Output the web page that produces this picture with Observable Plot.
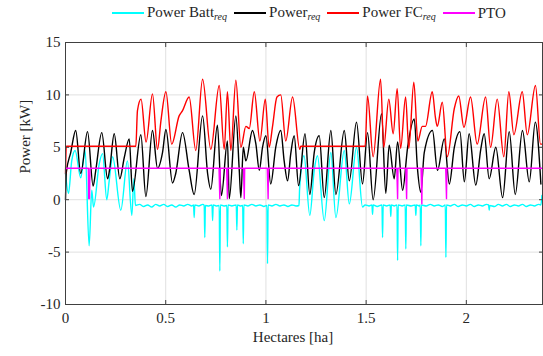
<!DOCTYPE html>
<html>
<head>
<meta charset="utf-8">
<script src="https://cdn.jsdelivr.net/npm/d3@7"></script>
<script src="https://cdn.jsdelivr.net/npm/@observablehq/plot@0.6"></script>
<style>
  html, body { margin: 0; padding: 0; background: #fff; }
  #wrap { position: relative; width: 543px; height: 356px; font-family: "Liberation Serif", serif; }
  #legend { position: absolute; top: 4px; left: 112px; display: flex; align-items: center; gap: 7px; font-size: 15px; color: #262626; white-space: nowrap; }
  #legend .item { display: flex; align-items: center; gap: 3px; }
  #legend .sw { width: 32px; height: 0; border-top: 2px solid; }
  #legend sub { font-size: 10px; font-style: italic; vertical-align: -3px; }
  svg { display: block; }
</style>
</head>
<body>
<div id="wrap"><div id="legend"></div><div id="chart"></div></div>
<script>
// ---- tick values ----
const xTicks = [0, 0.5, 1, 1.5, 2];
const yTicks = [-10, -5, 0, 5, 10, 15];

// ---- legend ----
const seriesNames = ["Power Batt", "Power", "Power FC", "PTO"];
const seriesSubs = ["req", "req", "req", ""];
const seriesColors = ["#00ffff", "#000000", "#ff0000", "#ff00ff"];

// ---- series: [hectares, kW] ----
const powerBattReq = [[0,2.5],[0.015,0.6],[0.031,3.7],[0.048,4.7],[0.076,2.1],[0.098,4.7],[0.118,-4.4],[0.131,0.9],[0.140,-0.7],[0.168,3.4],[0.185,4.4],[0.206,0.0],[0.218,1.8],[0.235,4.1],[0.276,-1.0],[0.309,3.7],[0.331,-1.5],[0.341,2.0],[0.349,-0.55],
[0.37,-0.45],[0.39,-0.65],[0.41,-0.5],[0.43,-0.7],[0.45,-0.45],[0.47,-0.6],[0.49,-0.45],[0.51,-0.65],[0.53,-0.5],[0.55,-0.7],[0.57,-0.5],[0.59,-0.6],[0.61,-0.45],[0.630,-0.6],[0.639,-0.5],[0.642,-1.7],[0.645,-0.5],[0.665,-0.6],[0.685,-0.45],[0.692,-0.55],[0.695,-3.6],[0.698,-0.55],[0.715,-0.6],[0.731,-0.5],[0.734,-2.0],[0.737,-0.5],[0.752,-0.6],[0.767,-0.55],[0.770,-6.8],[0.773,-0.5],[0.790,-0.6],[0.805,-0.55],[0.808,-4.5],[0.811,-0.5],[0.830,-0.6],[0.852,-0.5],[0.855,-2.9],[0.858,-0.5],[0.872,-0.6],[0.884,-0.55],[0.887,-4.2],[0.890,-0.5],[0.91,-0.6],[0.93,-0.45],[0.95,-0.6],[0.97,-0.5],[0.99,-0.65],[1.005,-0.55],[1.008,-6.1],[1.011,-0.5],[1.03,-0.6],[1.05,-0.45],[1.07,-0.6],[1.09,-0.5],[1.11,-0.65],[1.13,-0.5],[1.15,-0.6],[1.165,-0.55],
[1.168,1.0],[1.190,4.2],[1.219,-1.5],[1.241,2.8],[1.257,4.2],[1.291,-2.0],[1.324,4.5],[1.349,-1.7],[1.391,4.7],[1.416,-0.4],[1.452,5.0],[1.482,-0.7],[1.495,-0.5],
[1.515,-0.6],[1.529,-0.5],[1.532,-1.4],[1.535,-0.5],[1.555,-0.65],[1.579,-0.5],[1.582,-3.6],[1.585,-0.5],[1.602,-0.6],[1.620,-0.5],[1.623,-1.6],[1.626,-0.5],[1.640,-0.6],[1.654,-0.5],[1.657,-5.8],[1.660,-0.5],[1.680,-0.6],[1.695,-0.5],[1.698,-4.7],[1.701,-0.5],[1.725,-0.6],[1.745,-0.5],[1.748,-1.5],[1.751,-0.5],[1.765,-0.6],[1.770,-0.5],[1.773,-4.4],[1.776,-0.5],[1.80,-0.6],[1.82,-0.45],[1.84,-0.6],[1.86,-0.5],[1.88,-0.65],[1.895,-0.5],[1.898,-5.5],[1.901,-0.5],[1.92,-0.6],[1.94,-0.45],[1.96,-0.65],[1.98,-0.5],[2.00,-0.6],[2.02,-0.45],[2.04,-0.65],[2.06,-0.5],[2.08,-0.6],[2.10,-0.45],[2.111,-0.5],[2.114,-1.0],[2.117,-0.55],[2.14,-0.65],[2.16,-0.45],[2.18,-0.6],[2.20,-0.45],[2.22,-0.65],[2.24,-0.5],[2.26,-0.6],[2.28,-0.45],[2.30,-0.65],[2.32,-0.5],[2.34,-0.6],[2.36,-0.45],[2.372,-0.5],[2.377,0.4]];

const powerReq = [[0,0],[0.004,2.6],[0.026,4.5],[0.051,6.6],[0.076,2.5],[0.110,6.5],[0.138,1.3],[0.151,2.8],[0.181,6.4],[0.210,2.0],[0.221,3.0],[0.243,6.3],[0.271,2.0],[0.293,4.0],[0.318,5.8],[0.334,0.8],[0.376,6.2],[0.401,0.3],[0.434,6.6],[0.459,3.0],[0.484,4.5],[0.501,6.7],[0.534,1.6],[0.550,2.5],[0.584,6.4],[0.617,2.8],[0.642,0.5],[0.684,8.0],[0.709,2.5],[0.725,1.0],[0.758,7.1],[0.778,0.4],[0.808,5.6],[0.817,0.1],[0.850,8.0],[0.867,2.8],[0.875,0.2],[0.887,5.0],[0.900,3.7],[0.933,6.6],[0.950,5.3],[0.967,2.8],[0.983,5.0],[1.000,6.1],[1.024,1.5],[1.049,5.0],[1.074,6.6],[1.091,3.7],[1.108,1.8],[1.124,4.4],[1.141,6.1],[1.163,1.35],[1.195,6.3],[1.219,0.5],[1.241,4.5],[1.266,6.1],[1.291,0.2],[1.324,6.6],[1.349,0.5],[1.391,6.6],[1.416,1.8],[1.452,7.4],[1.482,1.5],[1.507,6.4],[1.535,0.0],[1.577,8.2],[1.598,0.6],[1.615,5.2],[1.640,2.0],[1.657,5.5],[1.682,0.9],[1.707,5.0],[1.740,7.7],[1.756,3.0],[1.773,0.7],[1.790,4.5],[1.831,6.6],[1.856,2.8],[1.890,5.8],[1.915,1.5],[1.940,5.0],[1.968,6.5],[1.990,1.7],[2.014,6.3],[2.047,1.4],[2.072,4.8],[2.089,6.3],[2.114,2.0],[2.147,5.0],[2.181,0.2],[2.214,6.5],[2.244,0.5],[2.280,6.6],[2.314,1.7],[2.344,7.4],[2.372,1.5]];

const powerFCReq = [[0,2.5],[0.004,5.1],[0.351,5.1],[0.359,8.5],[0.377,9.6],[0.402,5.5],[0.434,10.1],[0.459,4.8],[0.476,7.5],[0.501,10.3],[0.530,5.3],[0.567,8.0],[0.584,8.5],[0.617,9.8],[0.650,4.7],[0.684,11.5],[0.725,4.8],[0.767,10.9],[0.792,4.8],[0.808,10.3],[0.825,4.7],[0.850,11.4],[0.875,5.0],[0.900,7.0],[0.917,6.8],[0.942,10.3],[0.970,5.6],[0.997,9.6],[1.016,5.0],[1.033,7.0],[1.055,9.8],[1.074,10.0],[1.099,5.6],[1.133,9.8],[1.169,4.8],[1.174,5.1],[1.495,5.1],[1.507,9.9],[1.535,4.1],[1.572,11.5],[1.588,5.0],[1.613,9.6],[1.635,6.3],[1.655,10.6],[1.672,4.9],[1.697,9.8],[1.713,4.9],[1.738,11.2],[1.758,5.6],[1.780,7.0],[1.796,7.0],[1.830,10.3],[1.846,7.8],[1.855,7.0],[1.880,9.3],[1.905,4.1],[1.940,8.7],[1.962,9.9],[1.988,6.9],[2.021,9.8],[2.054,5.3],[2.096,9.8],[2.121,5.0],[2.154,9.6],[2.187,4.1],[2.212,10.3],[2.237,6.2],[2.279,10.3],[2.304,6.2],[2.345,10.9],[2.370,5.3],[2.380,5.3]];

const pto = [[0,2.9],[0.004,3.0],[0.114,3],[0.116,0.1],[0.120,0.1],[0.122,3],[0.766,3],[0.770,0.1],[0.772,3],[0.804,3],[0.808,0.1],[0.810,3],[0.888,3],[0.892,0.1],[0.894,3],[1.007,3],[1.011,0.1],[1.013,3],[1.653,3],[1.657,0.1],[1.659,3],[1.698,3],[1.702,0.1],[1.704,3],[1.774,3],[1.778,-0.4],[1.780,3],[1.897,3],[1.901,0.1],[1.903,3],[2.38,3]];

const seriesData = [powerBattReq, powerReq, powerFCReq, pto];
const seriesCurves = ["monotone-x", "monotone-x", "monotone-x", "linear"];

// legend
const leg = document.getElementById("legend");
seriesNames.forEach((n, i) => {
  const it = document.createElement("div");
  it.className = "item";
  it.innerHTML = `<span class="sw" style="border-color:${seriesColors[i]}"></span><span>${n}${seriesSubs[i] ? `<sub>${seriesSubs[i]}</sub>` : ""}</span>`;
  leg.appendChild(it);
});

const fmt = d => String(d);
const chart = Plot.plot({
  width: 543,
  height: 356,
  marginTop: 42,
  marginBottom: 52,
  marginLeft: 65,
  marginRight: 1,
  style: { fontFamily: "Liberation Serif, serif", fontSize: "15px", color: "#262626", background: "transparent" },
  x: { domain: [0, 2.38] },
  y: { domain: [-10, 15] },
  marks: [
    Plot.gridX(xTicks, { stroke: "#e0e0e0", strokeOpacity: 1 }),
    Plot.gridY(yTicks, { stroke: "#e0e0e0", strokeOpacity: 1 }),
    ...seriesData.map((s, i) => Plot.line(s, { x: d => d[0], y: d => d[1], stroke: seriesColors[i], strokeWidth: 1.4, curve: seriesCurves[i] })),
    Plot.frame({ stroke: "#404040", strokeWidth: 1 }),
    Plot.axisX(xTicks, { anchor: "bottom", tickSize: -4, tickPadding: 12, tickFormat: fmt, label: null, stroke: "#404040" }),
    Plot.axisX(xTicks, { anchor: "top", tickSize: -4, tickFormat: () => "", label: null, stroke: "#404040" }),
    Plot.axisY(yTicks, { anchor: "left", tickSize: -4, tickPadding: 9, tickFormat: fmt, label: null, stroke: "#404040" }),
    Plot.axisY(yTicks, { anchor: "right", tickSize: -4, tickFormat: () => "", label: null, stroke: "#404040" }),
    Plot.text(["Hectares [ha]"], { frameAnchor: "bottom", dy: 37, dx: -11, fontSize: 15, fill: "#262626" }),
    Plot.text(["Power [kW]"], { frameAnchor: "left", dx: -40, rotate: -90, fontSize: 15, fill: "#262626" })
  ]
});
document.getElementById("chart").appendChild(chart);
</script>
</body>
</html>
